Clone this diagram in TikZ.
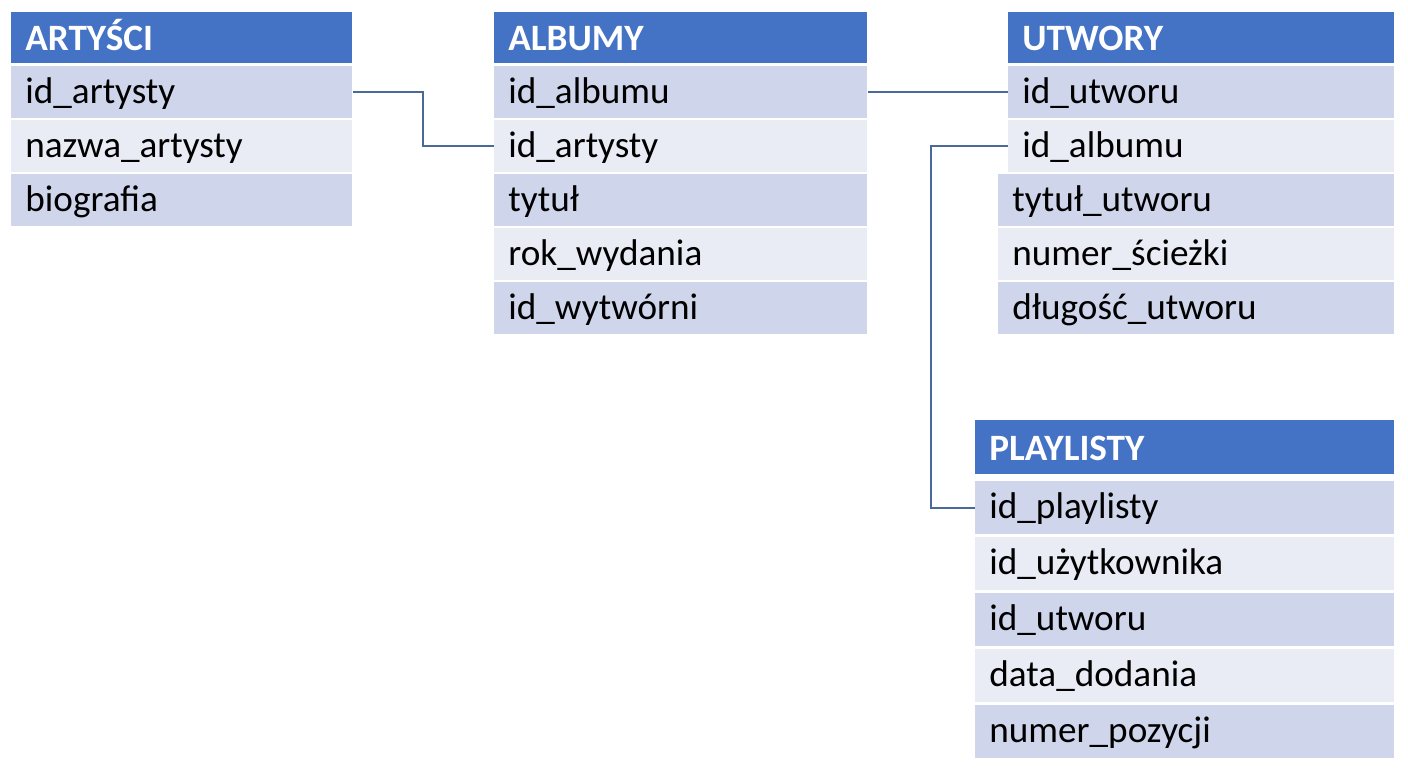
\documentclass[tikz,border=0pt]{standalone}
\usepackage{fontspec}
\setmainfont{Carlito}
\definecolor{headblue}{HTML}{4472C4}
\definecolor{rowdark}{HTML}{CFD5EA}
\definecolor{rowlight}{HTML}{E9EBF5}
\definecolor{linkblue}{HTML}{4A6898}

\begin{document}
\begin{tikzpicture}
  [x=0.5pt,y=-0.5pt,
   cell/.style={anchor=north west,inner xsep=7pt,inner ysep=0pt,align=left,
     minimum height=26pt,text height=14.2pt,text depth=3.2pt,
     font=\fontsize{18.6}{22}\selectfont},
   head/.style={cell,fill=headblue,text=white,minimum height=25.5pt,
     text height=14pt,text depth=1.3pt,font=\fontsize{18.6}{22}\selectfont\bfseries},
   link/.style={draw=linkblue,line width=1pt}]
  \useasboundingbox (0,0) rectangle (1408,768);

  \node[head,text width=156.5pt] (art) at (11,12) {ARTYŚCI};
  \foreach \txt/\col [count=\i] in {id\_artysty/rowdark,nazwa\_artysty/rowlight,
      biografia/rowdark}
    \node[cell,fill=\col,text width=156.5pt] (art\i) at (11,12+54*\i) {\txt};

  \node[head,text width=172.5pt] (alb) at (494,12) {ALBUMY};
  \foreach \txt/\col [count=\i] in {id\_albumu/rowdark,id\_artysty/rowlight,
      tytuł/rowdark,rok\_wydania/rowlight,id\_wytwórni/rowdark}
    \node[cell,fill=\col,text width=172.5pt] (alb\i) at (494,12+54*\i) {\txt};

  \node[head,text width=179pt] (ut) at (1008,12) {UTWORY};
  \foreach \txt/\col/\xx/\ww [count=\i] in {id\_utworu/rowdark/1008/179pt,
      id\_albumu/rowlight/1008/179pt,tytuł\_utworu/rowdark/998/184pt,
      numer\_ścieżki/rowlight/998/184pt,długość\_utworu/rowdark/998/184pt}
    \node[cell,fill=\col,text width=\ww] (ut\i) at (\xx,12+54*\i) {\txt};

  \node[head,text width=195.5pt,minimum height=27pt] (pl) at (975,420) {PLAYLISTY};
  \foreach \txt/\col [count=\i] in {id\_playlisty/rowdark,id\_użytkownika/rowlight,
      id\_utworu/rowdark,data\_dodania/rowlight,numer\_pozycji/rowdark}
    \node[cell,fill=\col,text width=195.5pt,minimum height=26.5pt] (pl\i)
      at (975,425+56*\i) {\txt};

  \draw[link] (art1.east) -- ++(70,0) |- (alb2.west);
  \draw[link] (alb1.east) -- (ut1.west);
  \draw[link] (ut2.west) -- ++(-77,0) |- (pl1.west);
\end{tikzpicture}
\end{document}
